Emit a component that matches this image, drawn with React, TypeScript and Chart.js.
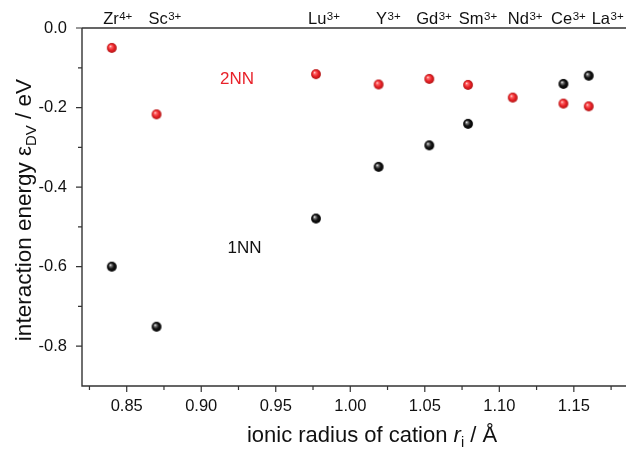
import React, { useEffect, useRef } from 'react';
import { Chart, registerables } from 'chart.js';

Chart.register(...registerables);

// ---- data ----
const CATIONS = ['Zr', 'Sc', 'Lu', 'Y', 'Gd', 'Sm', 'Nd', 'Ce', 'La'];
const CHARGES = ['4+', '3+', '3+', '3+', '3+', '3+', '3+', '3+', '3+'];
const RADII = [0.84, 0.87, 0.977, 1.019, 1.053, 1.079, 1.109, 1.143, 1.16];
const E_1NN: (number | null)[] = [-0.6, -0.751, -0.479, -0.349, -0.295, -0.241, null, -0.1405, -0.12];
const E_2NN = [-0.05, -0.217, -0.116, -0.142, -0.128, -0.143, -0.175, -0.19, -0.197];
// label anchor positions (x, data units) for the cation names above the plot
const LABEL_X = [0.8438, 0.8754, 0.9822, 1.0254, 1.056, 1.0855, 1.1172, 1.1462, 1.1725];

const X_TICKS = [0.85, 0.9, 0.95, 1.0, 1.05, 1.1, 1.15];
const Y_TICKS = [0, -0.2, -0.4, -0.6, -0.8];
const X_MIN = 0.82;
const X_MAX = 1.185;
const Y_MIN = -0.9;
const Y_MAX = 0;

const ANNOT_2NN = { x: 0.924, y: -0.129, text: '2NN' };
const ANNOT_1NN = { x: 0.929, y: -0.554, text: '1NN' };

const FONT = '"Liberation Sans", Arial, Helvetica, sans-serif';
const RED = '#e8222a';
const AXIS = '#333333';
const TEXT = '#111111';

function makeBall(stops: [number, string][]) {
  const c = document.createElement('canvas');
  c.width = 12;
  c.height = 12;
  const g = c.getContext('2d')!;
  const cx = 6, cy = 6, r = 4.9;
  const grad = g.createRadialGradient(cx - 1.6, cy - 1.8, 0.2, cx, cy, r);
  stops.forEach(([o, col]) => grad.addColorStop(o, col));
  g.fillStyle = grad;
  g.beginPath();
  g.arc(cx, cy, r, 0, Math.PI * 2);
  g.fill();
  return c;
}

type Seg = { text: string; size: number; italic?: boolean; dy?: number };

function drawRich(ctx: CanvasRenderingContext2D, segs: Seg[], x: number, y: number, color: string) {
  const fontOf = (s: Seg) => `${s.italic ? 'italic ' : ''}${s.size}px ${FONT}`;
  let w = 0;
  segs.forEach((s) => {
    ctx.font = fontOf(s);
    w += ctx.measureText(s.text).width;
  });
  let cx = x - w / 2;
  ctx.fillStyle = color;
  ctx.textAlign = 'left';
  ctx.textBaseline = 'alphabetic';
  segs.forEach((s) => {
    ctx.font = fontOf(s);
    ctx.fillText(s.text, cx, y + (s.dy || 0));
    cx += ctx.measureText(s.text).width;
  });
}

export default function App() {
  const ref = useRef<HTMLCanvasElement>(null);

  useEffect(() => {
    const canvas = ref.current!;
    const redBall = makeBall([
      [0, '#ffe0e0'],
      [0.22, '#ff6a6a'],
      [0.6, '#ea2228'],
      [1, '#b01414'],
    ]);
    const blackBall = makeBall([
      [0, '#f0f0f0'],
      [0.22, '#7a7a7a'],
      [0.55, '#161616'],
      [1, '#000000'],
    ]);

    const decor = {
      id: 'decor',
      afterDraw(chart: any) {
        const ctx: CanvasRenderingContext2D = chart.ctx;
        const xs = chart.scales.x;
        const ys = chart.scales.y;
        const { left, right, top, bottom } = chart.chartArea;
        ctx.save();
        // axis lines
        ctx.strokeStyle = AXIS;
        ctx.lineWidth = 1.4;
        ctx.beginPath();
        ctx.moveTo(left, top);
        ctx.lineTo(right, top);
        ctx.moveTo(left, top);
        ctx.lineTo(left, bottom);
        ctx.lineTo(right, bottom);
        ctx.stroke();
        // ticks
        ctx.lineWidth = 1.2;
        ctx.beginPath();
        X_TICKS.forEach((v) => {
          const p = xs.getPixelForValue(v);
          ctx.moveTo(p, bottom);
          ctx.lineTo(p, bottom + 6);
          [v - 0.025, v + 0.025].forEach((m) => {
            if (m > X_MIN && m < X_MAX) {
              const q = xs.getPixelForValue(m);
              ctx.moveTo(q, bottom);
              ctx.lineTo(q, bottom + 4);
            }
          });
        });
        Y_TICKS.forEach((v) => {
          const p = ys.getPixelForValue(v);
          ctx.moveTo(left - 6, p);
          ctx.lineTo(left, p);
          const m = v - 0.1;
          if (m > Y_MIN) {
            const q = ys.getPixelForValue(m);
            ctx.moveTo(left - 4, q);
            ctx.lineTo(left, q);
          }
        });
        ctx.stroke();

        // cation labels on top
        CATIONS.forEach((name, i) => {
          const cx = xs.getPixelForValue(LABEL_X[i]);
          ctx.font = `16.5px ${FONT}`;
          const w1 = ctx.measureText(name).width;
          ctx.font = `11.5px ${FONT}`;
          const w2 = ctx.measureText(CHARGES[i]).width;
          const x0 = cx - (w1 + w2) / 2;
          ctx.fillStyle = TEXT;
          ctx.textAlign = 'left';
          ctx.textBaseline = 'alphabetic';
          ctx.font = `16.5px ${FONT}`;
          ctx.fillText(name, x0, 24);
          ctx.font = `11.5px ${FONT}`;
          ctx.fillText(CHARGES[i], x0 + w1 + 0.5, 19.5);
        });

        // annotations
        ctx.textAlign = 'center';
        ctx.textBaseline = 'middle';
        ctx.font = `17px ${FONT}`;
        ctx.fillStyle = RED;
        ctx.fillText(ANNOT_2NN.text, xs.getPixelForValue(ANNOT_2NN.x), ys.getPixelForValue(ANNOT_2NN.y));
        ctx.fillStyle = TEXT;
        ctx.fillText(ANNOT_1NN.text, xs.getPixelForValue(ANNOT_1NN.x), ys.getPixelForValue(ANNOT_1NN.y));

        // x title
        drawRich(
          ctx,
          [
            { text: 'ionic radius of cation ', size: 22 },
            { text: 'r', size: 22, italic: true },
            { text: 'i', size: 14.5, dy: 5 },
            { text: ' / Å', size: 22 },
          ],
          372,
          442,
          TEXT
        );
        // y title
        ctx.save();
        ctx.translate(31, 210);
        ctx.rotate(-Math.PI / 2);
        drawRich(
          ctx,
          [
            { text: 'interaction energy ε', size: 22.5 },
            { text: 'DV', size: 15, dy: 5 },
            { text: ' / eV', size: 22.5 },
          ],
          0,
          0,
          TEXT
        );
        ctx.restore();
        ctx.restore();
      },
    };

    const chart = new Chart(canvas, {
      type: 'scatter',
      data: {
        datasets: [
          {
            label: '1NN',
            data: RADII.map((x, i) => ({ x, y: E_1NN[i] })).filter((d) => d.y !== null) as any,
            pointStyle: blackBall as any,
            pointRadius: 5,
          },
          {
            label: '2NN',
            data: RADII.map((x, i) => ({ x, y: E_2NN[i] })),
            pointStyle: redBall as any,
            pointRadius: 5,
          },
        ],
      },
      options: {
        animation: false,
        responsive: false,
        devicePixelRatio: 1,
        layout: { padding: { top: 28, left: 0, right: 0, bottom: 0 } },
        plugins: { legend: { display: false }, tooltip: { enabled: false } },
        scales: {
          x: {
            type: 'linear',
            min: X_MIN,
            max: X_MAX,
            afterBuildTicks: (s: any) => {
              s.ticks = X_TICKS.map((value) => ({ value }));
            },
            afterFit: (s: any) => {
              s.height = 63;
            },
            grid: { display: true, drawOnChartArea: false, drawTicks: true, tickLength: 6, color: 'rgba(0,0,0,0)' },
            border: { display: false },
            ticks: {
              padding: 5,
              color: TEXT,
              font: { family: FONT, size: 16.5 },
              maxRotation: 0,
              autoSkip: false,
              callback: (v: any) => Number(v).toFixed(2),
            },
          },
          y: {
            type: 'linear',
            min: Y_MIN,
            max: Y_MAX,
            afterBuildTicks: (s: any) => {
              s.ticks = Y_TICKS.map((value) => ({ value }));
            },
            afterFit: (s: any) => {
              s.width = 82;
            },
            grid: { display: true, drawOnChartArea: false, drawTicks: true, tickLength: 6, color: 'rgba(0,0,0,0)' },
            border: { display: false },
            ticks: {
              padding: 9,
              color: TEXT,
              font: { family: FONT, size: 16.5 },
              autoSkip: false,
              callback: (v: any) => (Math.abs(Number(v)) < 1e-9 ? '0.0' : Number(v).toFixed(1)),
            },
          },
        },
      },
      plugins: [decor],
    });
    return () => chart.destroy();
  }, []);

  return (
    <div style={{ position: 'fixed', left: 0, top: 0, width: 632, height: 449, background: '#ffffff' }}>
      <canvas ref={ref} width={632} height={449} style={{ width: 632, height: 449, display: 'block' }} />
    </div>
  );
}
